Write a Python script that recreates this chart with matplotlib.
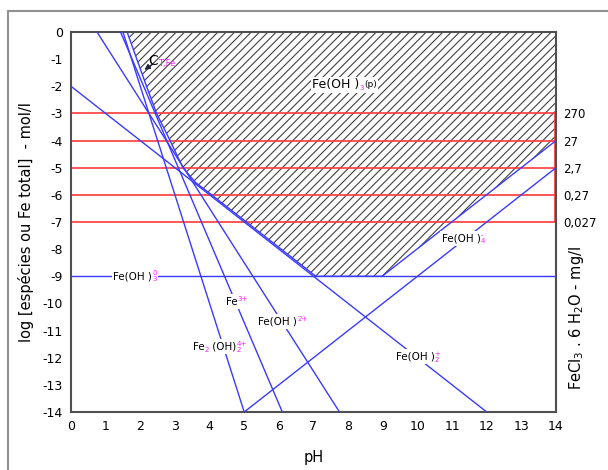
import matplotlib
matplotlib.use("Agg")
import matplotlib.pyplot as plt
from matplotlib.patches import Polygon, Rectangle
from matplotlib.offsetbox import TextArea, HPacker, VPacker, AnnotationBbox

plt.rcParams['font.family'] = ['Liberation Sans Narrow', 'DejaVu Sans']
plt.rcParams['hatch.linewidth'] = 0.8

# ---- data ----
ph_range = [0, 14]
fe2oh2_ph = [1.5, 5.0];   fe2oh2_log = [0, -14]
fe3_ph = [1.43, 6.1];     fe3_log = [0, -14]
feoh2_ph = [0.75, 7.75];  feoh2_log = [0, -14]
feoh2p_ph = [0, 12];      feoh2p_log = [-2, -14]
feoh3_ph = [0, 14];       feoh3_log = [-9, -9]
feoh4_ph = [5, 14];       feoh4_log = [-14, -5]
total_ph = [1.62, 1.9, 2.18, 2.47, 2.86, 3.23, 3.6, 4.06, 7.07, 8.98, 14.0]
total_log = [0, -1, -2, -3, -4, -5, -5.55, -6, -9, -9, -4]
red_levels = [-3, -4, -5, -6, -7]
red_labels = ['270', '27', '2,7', '0,27', '0,027']
x_ticks = list(range(0, 15))
y_ticks = list(range(0, -15, -1))

BLUE = '#3a3aff'
RED = '#ff3a3a'
MAG = '#ff20ff'

fig = plt.figure(figsize=(6.08, 4.70), dpi=100)
ax = fig.add_axes([71/608, 1-412/470, (556-71)/608, (412-32)/470])
ax.set_xlim(0, 14)
ax.set_ylim(-14, 0)

# hatched region
poly_x = total_ph + [14, total_ph[0]]
poly_y = total_log + [0, 0]
ax.add_patch(Polygon(list(zip(poly_x, poly_y)), closed=True, facecolor='white',
                     edgecolor='#404040', hatch='////', linewidth=0, zorder=1))

for lv in red_levels:
    ax.plot(ph_range, [lv, lv], color=RED, lw=1.2, zorder=2)
ax.plot([13.97, 13.97], [red_levels[0], red_levels[-1]], color=RED, lw=1.2, zorder=2)

for xs, ys in [(fe2oh2_ph, fe2oh2_log), (fe3_ph, fe3_log), (feoh2_ph, feoh2_log),
               (feoh2p_ph, feoh2p_log), (feoh3_ph, feoh3_log), (feoh4_ph, feoh4_log),
               (total_ph, total_log)]:
    ax.plot(xs, ys, color=BLUE, lw=1.0, zorder=3)

FS = 7.5
def ta(s, c='black', fs=FS):
    return TextArea(s, textprops=dict(color=c, fontsize=fs))

def script(sup=None, sub=None):
    return VPacker(children=[ta(sup if sup else ' ', MAG, 5),
                             ta(sub if sub else ' ', MAG, 5)], pad=0, sep=0, align='left')

def rich(x, y, parts):
    box = HPacker(children=parts, pad=0, sep=0, align='center')
    ab = AnnotationBbox(box, (x, y), frameon=True, pad=0.1,
                        bboxprops=dict(fc='white', ec='none'), zorder=5)
    ax.add_artist(ab)

rich(1.85, -9.0, [ta('Fe(OH )'), script('0', '3')])
rich(4.78, -9.94, [ta('Fe'), script('3+', None)])
rich(6.12, -10.67, [ta('Fe(OH )'), script('2+', None)])
rich(4.3, -11.6, [ta('Fe'), script(None, '2'), ta(' (OH)'), script('4+', '2')])
rich(11.32, -7.6, [ta('Fe(OH )'), script('-', '4')])
rich(10.02, -11.96, [ta('Fe(OH )'), script('+', '2')])
rich(7.9, -1.95, [ta('Fe(OH )', fs=9), script(None, '3'), ta('(p)', fs=6.5)])

# C_T,Fe label with arrow
ax.annotate('', xy=(2.05, -1.45), xytext=(2.4, -1.15),
            arrowprops=dict(arrowstyle='-|>', color='#202040', lw=1.0, mutation_scale=8), zorder=6)
box = HPacker(children=[ta('C', fs=10), VPacker(children=[ta(' ', MAG, 4), ta('T,Fe', MAG, 6)], pad=0, sep=0)],
              pad=0, sep=0, align='center')
ax.add_artist(AnnotationBbox(box, (2.62, -1.05), frameon=False, zorder=6))

ax.set_xticks(x_ticks)
ax.set_yticks(y_ticks)
ax.set_yticklabels([str(v) for v in y_ticks])
ax.tick_params(length=0, labelsize=9, pad=6)
for sp in ax.spines.values():
    sp.set_color('#505050')
    sp.set_linewidth(1.5)
ax.set_xlabel('pH', fontsize=10.5, labelpad=12)
ax.set_ylabel('log [espécies ou Fe total]  - mol/l', fontsize=10.5, labelpad=6)

ax2 = ax.twinx()
ax2.set_ylim(-14, 0)
ax2.set_yticks(red_levels)
ax2.set_yticklabels(red_labels)
ax2.tick_params(length=0, labelsize=8.5, pad=5)
for sp in ax2.spines.values():
    sp.set_visible(False)
fig.text(577/608, 1 - 318/470, 'FeCl$_3$ . 6 H$_2$O - mg/l', rotation=90,
         ha='center', va='center', fontsize=10.5)

fig.add_artist(Rectangle((8/608, -0.05), 1.1, 1 - 11/470 + 0.05, transform=fig.transFigure,
                         fill=False, edgecolor='#909090', lw=1.5))

fig.savefig('out.png', dpi=100)
